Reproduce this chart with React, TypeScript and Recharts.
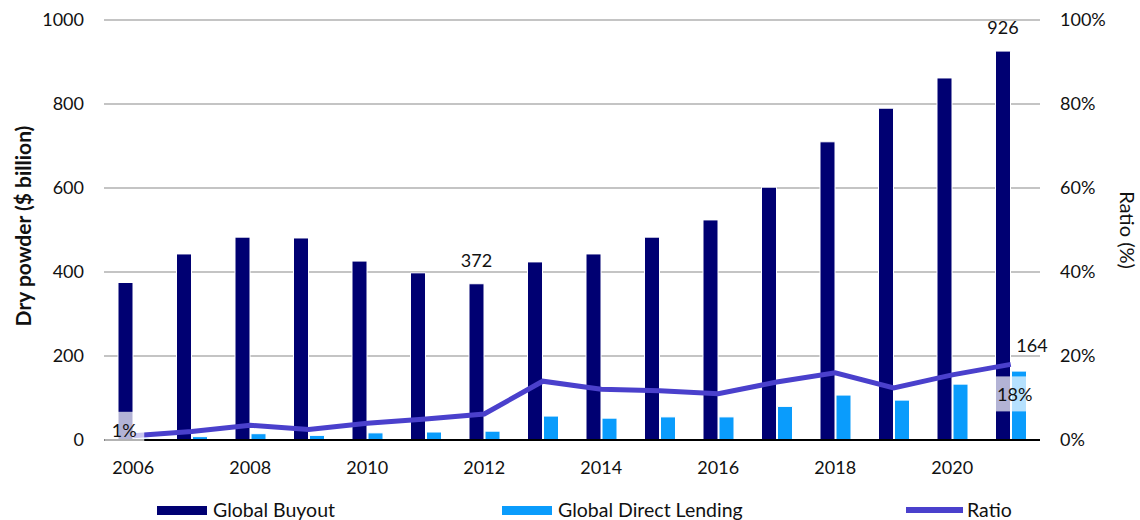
import { Bar, ComposedChart, Line, XAxis, YAxis, CartesianGrid, LabelList } from 'recharts';

const years = ['2006', '2007', '2008', '2009', '2010', '2011', '2012', '2013', '2014', '2015', '2016', '2017', '2018', '2019', '2020', '2021'];
const buyout = [375, 443, 483, 481, 426, 398, 372, 424, 443, 483, 524, 602, 710, 790, 862, 926];
const lending = [4, 8, 15, 11, 17, 19, 21, 57, 52, 55, 55, 80, 107, 95, 133, 164];
const ratio = [1, 2, 3.5, 2.5, 4, 5, 6.2, 14, 12.1, 11.7, 11, 13.8, 16, 12.4, 15.5, 18];

const leftTicks = [0, 200, 400, 600, 800, 1000];
const rightTicks = [0, 20, 40, 60, 80, 100];

// only a few points carry a data label in the original
const buyoutLabelled = [6, 15];
const lendingLabelled = [15];
const ratioLabelled = [0, 15];

const FONT = 'Lato, "Open Sans", sans-serif';
const INK = '#111';
const NAVY = '#000072';
const CYAN = '#0a9cfc';
const PURPLE = '#4a40cc';

const data = years.map((year, i) => ({
  year,
  buyout: buyout[i],
  lending: lending[i],
  ratio: ratio[i],
}));

const BuyoutLabel = (props: any) => {
  const { x, y, width, index, value } = props;
  if (!buyoutLabelled.includes(index)) return null;
  return (
    <text x={x + width / 2} y={y - 17} textAnchor="middle" fontSize={18} fontFamily={FONT} fill={INK}>
      {value}
    </text>
  );
};

const LendingLabel = (props: any) => {
  const { x, y, width, index, value } = props;
  if (!lendingLabelled.includes(index)) return null;
  return (
    <text x={x + width / 2 + 13} y={y - 19} textAnchor="middle" fontSize={18} fontFamily={FONT} fill={INK}>
      {value}
    </text>
  );
};

const RatioLabel = (props: any) => {
  const { x, y, index, value } = props;
  if (!ratioLabelled.includes(index)) return null;
  // first label sits left of the point, last one below it
  const first = index === 0;
  const bx = first ? x - 29 : x - 16;
  const by = first ? y - 24 : y + 12;
  const cx = bx + 20;
  return (
    <g>
      <rect x={bx} y={by} width={40} height={35} fill="#ffffff" fillOpacity={0.7} />
      <text x={cx} y={by + 25} textAnchor="middle" fontSize={18} fontFamily={FONT} fill={INK}>
        {`${Math.round(value)}%`}
      </text>
    </g>
  );
};

const LeftTitle = (props: any) => {
  const { viewBox } = props;
  const cy = viewBox.y + viewBox.height / 2 - 4;
  return (
    <text
      x={22}
      y={cy}
      transform={`rotate(-90, 22, ${cy})`}
      textAnchor="middle"
      dominantBaseline="central"
      fontSize={21}
      fontWeight="bold"
      fontFamily={FONT}
      fill={INK}
    >
      Dry powder ($ billion)
    </text>
  );
};

const RightTitle = (props: any) => {
  const { viewBox } = props;
  const cy = viewBox.y + viewBox.height / 2;
  const cx = viewBox.x + 88;
  return (
    <text
      x={cx}
      y={cy}
      transform={`rotate(90, ${cx}, ${cy})`}
      textAnchor="middle"
      dominantBaseline="central"
      fontSize={20}
      fontFamily={FONT}
      fill={INK}
    >
      Ratio (%)
    </text>
  );
};

const legendItems = [
  { name: 'Global Buyout', color: NAVY, left: 157, kind: 'bar' },
  { name: 'Global Direct Lending', color: CYAN, left: 502, kind: 'bar' },
  { name: 'Ratio', color: PURPLE, left: 906, kind: 'line' },
];

export default function App() {
  const tick = { fontSize: 18, fontFamily: FONT, fill: INK };

  return (
    <div style={{ position: 'absolute', left: 0, top: 0, width: 1140, height: 520, background: '#fff', overflow: 'hidden' }}>
      <ComposedChart
        width={1140}
        height={520}
        data={data}
        margin={{ top: 20, right: 0, left: 0, bottom: 50 }}
        barGap={1}
      >
        <CartesianGrid vertical={false} stroke="#b0b0b0" strokeWidth={1.6} yAxisId="left" />
        <XAxis
          dataKey="year"
          height={30}
          interval={1}
          tickLine={false}
          tickSize={0}
          tickMargin={21}
          tick={tick}
          stroke="#000"
          strokeWidth={2}
        />
        <YAxis
          yAxisId="left"
          orientation="left"
          width={104}
          domain={[0, 1000]}
          ticks={leftTicks}
          axisLine={false}
          tickLine={false}
          tickSize={0}
          tickMargin={20}
          tick={tick}
          label={{ content: LeftTitle }}
        />
        <YAxis
          yAxisId="right"
          orientation="right"
          width={100}
          domain={[0, 100]}
          ticks={rightTicks}
          tickFormatter={(v: number) => `${v}%`}
          axisLine={false}
          tickLine={false}
          tickSize={0}
          tickMargin={20}
          tick={{ ...tick, textAnchor: 'start' }}
          label={{ content: RightTitle }}
        />
        <Bar yAxisId="left" dataKey="buyout" barSize={15} fill={NAVY} stroke="#ffffff" strokeWidth={1} isAnimationActive={false}>
          <LabelList dataKey="buyout" content={BuyoutLabel} />
        </Bar>
        <Bar yAxisId="left" dataKey="lending" barSize={15} fill={CYAN} stroke="#ffffff" strokeWidth={1} isAnimationActive={false}>
          <LabelList dataKey="lending" content={LendingLabel} />
        </Bar>
        <Line
          yAxisId="right"
          dataKey="ratio"
          type="linear"
          stroke={PURPLE}
          strokeWidth={5}
          dot={false}
          activeDot={false}
          isAnimationActive={false}
        >
          <LabelList dataKey="ratio" content={RatioLabel} />
        </Line>
      </ComposedChart>

      {legendItems.map((item) => (
        <div
          key={item.name}
          style={{
            position: 'absolute',
            left: item.left,
            top: 498,
            display: 'flex',
            alignItems: 'center',
            fontFamily: FONT,
            fontSize: 19.5,
            color: INK,
            lineHeight: '24px',
          }}
        >
          <span
            style={{
              display: 'inline-block',
              width: item.kind === 'bar' ? 50 : 57,
              height: item.kind === 'bar' ? 9 : 6,
              background: item.color,
              marginRight: item.kind === 'bar' ? 6 : 4,
            }}
          />
          {item.name}
        </div>
      ))}
    </div>
  );
}
